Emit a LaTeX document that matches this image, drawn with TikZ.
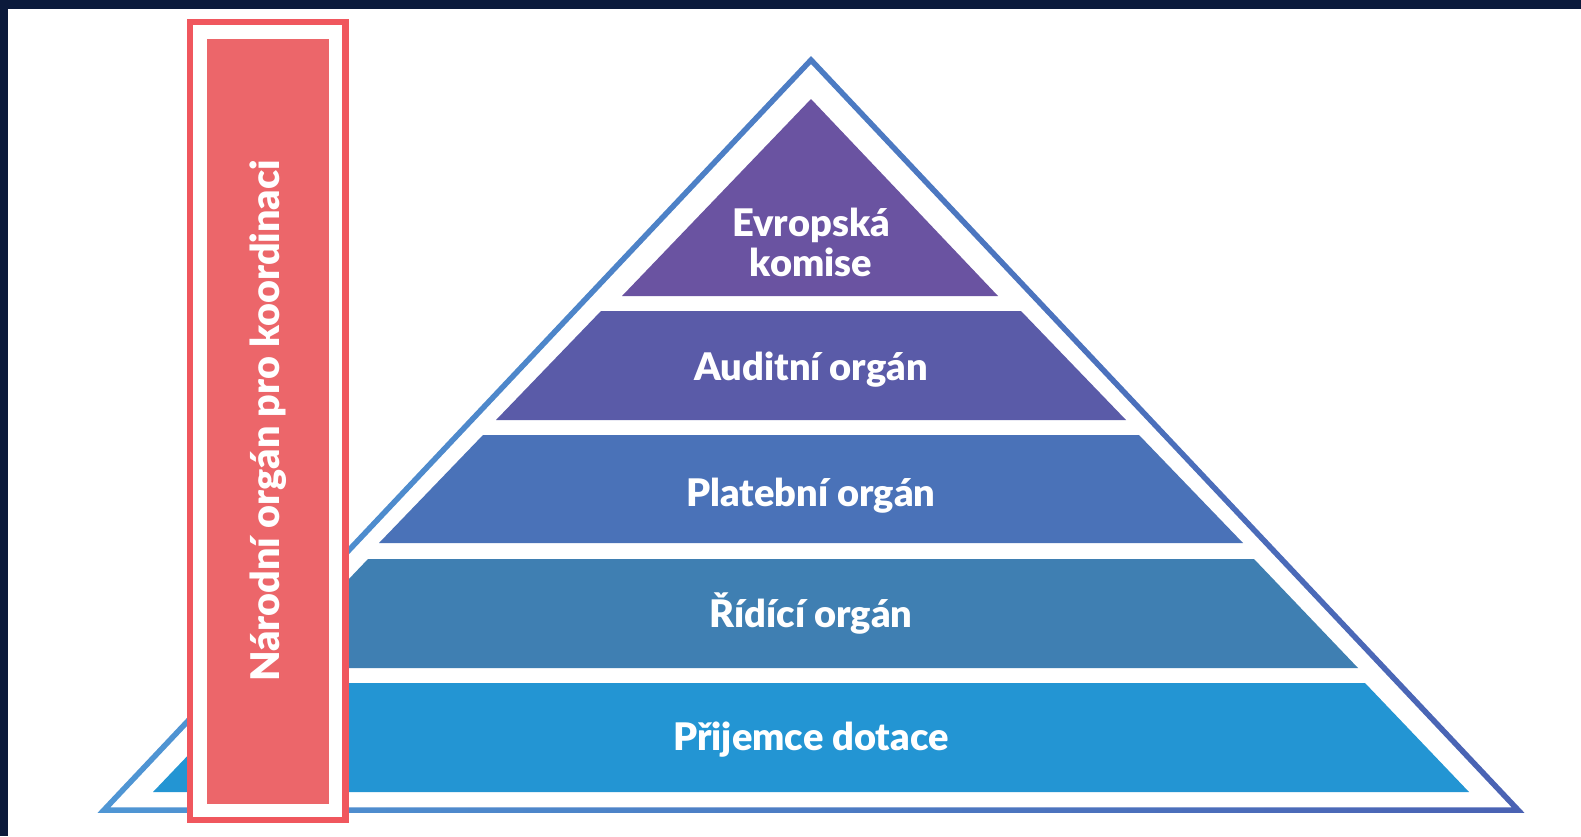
\documentclass[tikz,border=0pt]{standalone}
\usepackage{fontspec}
\setmainfont{Lato}[BoldFont={Lato Black}]
\usetikzlibrary{positioning}

\definecolor{navy}{HTML}{0B1A3B}
\definecolor{edgel}{HTML}{4F96D4}
\definecolor{edgem}{HTML}{4A86C8}
\definecolor{edger}{HTML}{4A62B3}
\definecolor{tierone}{HTML}{6A53A1}
\definecolor{tiertwo}{HTML}{5A5BA8}
\definecolor{tierthree}{HTML}{4A72B8}
\definecolor{tierfour}{HTML}{3F7FB2}
\definecolor{tierfive}{HTML}{2395D3}
\definecolor{redline}{HTML}{F0575E}
\definecolor{redfill}{HTML}{EC666A}

\begin{document}
\begin{tikzpicture}[x=1pt, y=-1pt,
    tiertext/.style={text=white, font=\bfseries\fontsize{38}{40}\selectfont, align=center, inner sep=0pt}]
    \useasboundingbox[fill=navy] (0,0) rectangle (1581,836);
    \fill[white] (8,8.7) rectangle (1581,836);

    \path[even odd rule, left color=edgel, middle color=edgem, right color=edger]
        (811,56) -- (97.6,812.75) -- (1524.4,812.75) -- cycle
        (811,64) -- (110.4,807.25) -- (1511.6,807.25) -- cycle;

    \fill[tierone] (811,99) -- (998,296) -- (622,296) -- cycle;
    \fill[tiertwo] (601,311) -- (1021,311) -- (1126,420) -- (496,420) -- cycle;
    \fill[tierthree] (483,435) -- (1139,435) -- (1243,543) -- (379,543) -- cycle;
    \fill[tierfour] (368,559) -- (1254,559) -- (1358,668) -- (264,668) -- cycle;
    \fill[tierfive] (257,683) -- (1365,683) -- (1469,792) -- (153,792) -- cycle;

    \node[tiertext] (ek) at (811,242) {Evropská\\komise};
    \node[tiertext, anchor=base] (ao) at (811,380) {Auditní orgán};
    \node[tiertext, anchor=base] (po) at (811,506) {Platební orgán};
    \node[tiertext, anchor=base] (ro) at (811,627) {Řídící orgán};
    \node[tiertext, anchor=base] (pd) at (811,750) {Přijemce dotace};

    \draw[redline, line width=6.5, fill=white] (190.2,22) rectangle (345.4,820);
    \fill[redfill] (206.5,38.7) rectangle (329.3,804.3);
    \node[tiertext, font=\bfseries\fontsize{39.5}{40}\selectfont, rotate=90] (nok) at (268,421) {Národní orgán pro koordinaci};
\end{tikzpicture}
\end{document}
